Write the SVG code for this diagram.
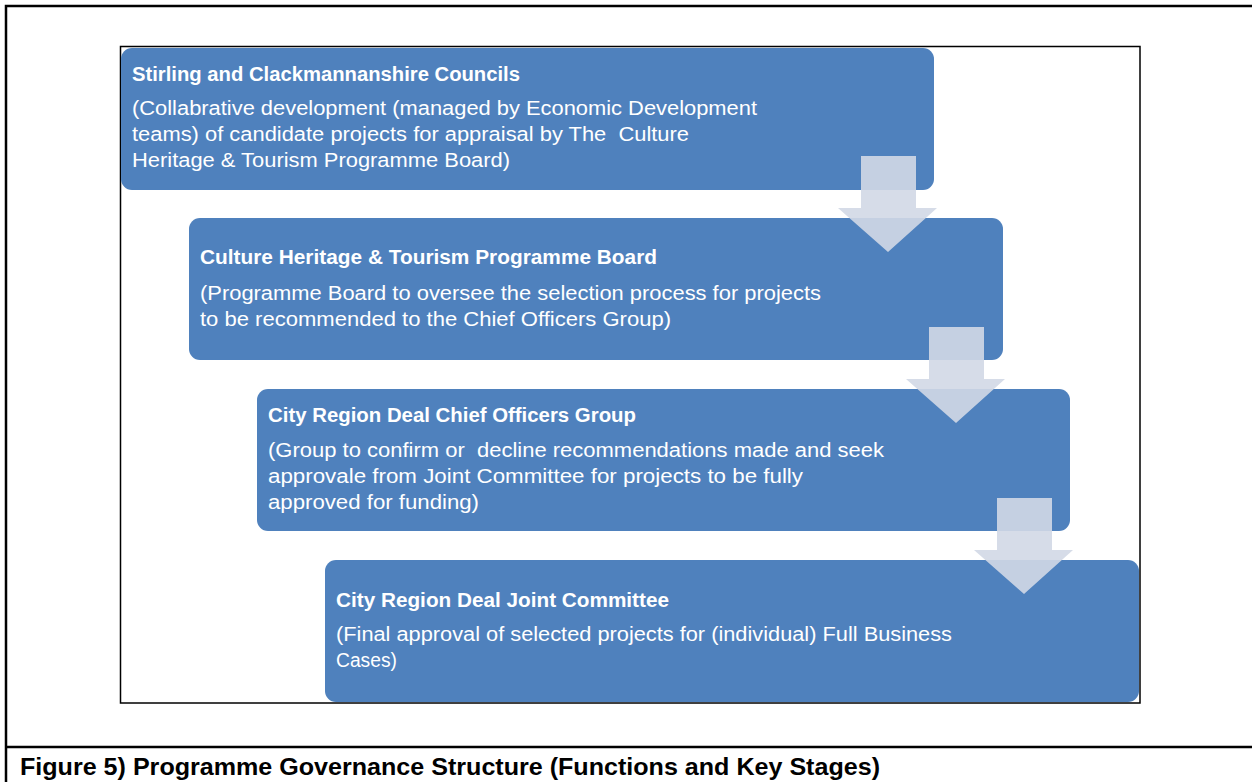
<svg xmlns="http://www.w3.org/2000/svg" width="1252" height="782" viewBox="0 0 1252 782">
  <style>
    .frame { fill: none; stroke: #000; }
    .stage { fill: #4f81bd; }
    .flow { fill: #d1d8e6; opacity: 0.9; }
    .title { font-family: "Liberation Sans", Arial, sans-serif; font-weight: bold; font-size: 19.5px; fill: #fff; }
    .body { font-family: "Liberation Sans", Arial, sans-serif; font-size: 19.5px; fill: #fff; white-space: pre; }
    .caption { font-family: "Liberation Sans", Arial, sans-serif; font-weight: bold; font-size: 23.5px; fill: #000; }
  </style>

  <rect width="1252" height="782" fill="#fff"/>

  <!-- table borders -->
  <g id="table">
    <path class="frame" stroke-width="2.5" d="M1260 6 H6 V790"/>
    <path class="frame" stroke-width="2.5" d="M6 747 H1260"/>
    <rect class="frame" stroke-width="1.5" x="120.5" y="46.5" width="1019.5" height="656.5"/>
  </g>

  <!-- stage boxes -->
  <g id="stage-councils">
    <rect class="stage" x="121" y="48" width="813" height="142" rx="11"/>
    <text class="title" x="132" y="80.5" textLength="388" lengthAdjust="spacingAndGlyphs">Stirling and Clackmannanshire Councils</text>
    <text class="body" x="132" y="115" textLength="625" lengthAdjust="spacingAndGlyphs">(Collabrative development (managed by Economic Development</text>
    <text class="body" x="132" y="141" textLength="557" lengthAdjust="spacingAndGlyphs">teams) of candidate projects for appraisal by The  Culture</text>
    <text class="body" x="132" y="167" textLength="378" lengthAdjust="spacingAndGlyphs">Heritage &amp; Tourism Programme Board)</text>
  </g>

  <g id="stage-board">
    <rect class="stage" x="189" y="218" width="814" height="142" rx="11"/>
    <text class="title" x="200" y="264" textLength="457" lengthAdjust="spacingAndGlyphs">Culture Heritage &amp; Tourism Programme Board</text>
    <text class="body" x="200" y="300" textLength="621" lengthAdjust="spacingAndGlyphs">(Programme Board to oversee the selection process for projects</text>
    <text class="body" x="200" y="326" textLength="471" lengthAdjust="spacingAndGlyphs">to be recommended to the Chief Officers Group)</text>
  </g>

  <g id="stage-officers">
    <rect class="stage" x="257" y="389" width="813" height="142" rx="11"/>
    <text class="title" x="268" y="422" textLength="368" lengthAdjust="spacingAndGlyphs">City Region Deal Chief Officers Group</text>
    <text class="body" x="268" y="457" textLength="616" lengthAdjust="spacingAndGlyphs">(Group to confirm or  decline recommendations made and seek</text>
    <text class="body" x="268" y="483" textLength="535" lengthAdjust="spacingAndGlyphs">approvale from Joint Committee for projects to be fully</text>
    <text class="body" x="268" y="509" textLength="211" lengthAdjust="spacingAndGlyphs">approved for funding)</text>
  </g>

  <g id="stage-committee">
    <rect class="stage" x="325" y="560" width="814" height="142" rx="11"/>
    <text class="title" x="336" y="607" textLength="333" lengthAdjust="spacingAndGlyphs">City Region Deal Joint Committee</text>
    <text class="body" x="336" y="641" textLength="616" lengthAdjust="spacingAndGlyphs">(Final approval of selected projects for (individual) Full Business</text>
    <text class="body" x="336" y="667" textLength="61" lengthAdjust="spacingAndGlyphs">Cases)</text>
  </g>

  <!-- downward flow arrows between stages -->
  <g id="connectors">
    <path class="flow" d="M861 156 H916 V208 H937 L888 252 L838 208 H861 Z"/>
    <path class="flow" d="M929 327 H984 V379 H1005 L956 423 L906 379 H929 Z"/>
    <path class="flow" d="M997 498 H1052 V550 H1073 L1024 594 L974 550 H997 Z"/>
  </g>

  <text class="caption" x="20" y="775" textLength="860" lengthAdjust="spacingAndGlyphs">Figure 5) Programme Governance Structure (Functions and Key Stages)</text>
</svg>
